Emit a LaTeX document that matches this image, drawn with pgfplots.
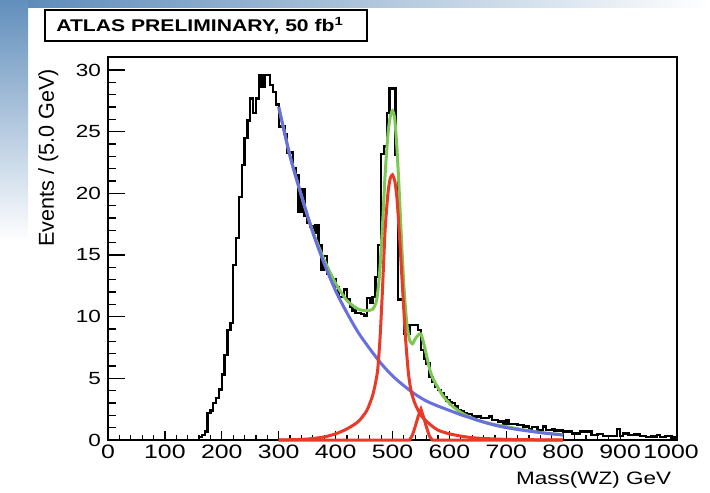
\documentclass[border=0pt]{standalone}
\usepackage{fontspec}
\setmainfont{Liberation Sans}[FakeStretch=1.25]
\newfontfamily\plainsans{Liberation Sans}
\newfontfamily\tickfont{Liberation Sans}[FakeStretch=1.28]
\usepackage{pgfplots}
\pgfplotsset{compat=1.18}
\definecolor{fitblue}{RGB}{104,112,222}
\definecolor{fitgreen}{RGB}{125,200,85}
\definecolor{fitred}{RGB}{232,58,38}
\definecolor{slideblue}{RGB}{45,105,165}

\begin{document}
\begin{tikzpicture}[x=0.5pt,y=0.5pt]
\useasboundingbox (0,0) rectangle (710,492);
% slide background
\shade[left color=slideblue!80, right color=white] (0,484) rectangle (710,492);
\shade[top color=slideblue!75, bottom color=white] (0,250) rectangle (28,492);

\begin{axis}[
  at={(54pt,26pt)}, anchor=south west,
  scale only axis, width=284.5pt, height=191.5pt,
  xmin=0, xmax=1000, ymin=0, ymax=31.05,
  axis line style={line width=0.7pt},
  tick align=inside, xtick pos=bottom, ytick pos=left,
  xtick={0,100,...,900}, minor x tick num=4,
  extra x ticks={1000},
  extra x tick style={xticklabel style={xshift=-3pt}},
  ytick={0,5,...,30}, minor y tick num=4,
  xtick style={/pgfplots/major tick length=4.5pt,/pgfplots/minor tick length=2.3pt},
  ytick style={/pgfplots/major tick length=8.5pt,/pgfplots/minor tick length=4.2pt},
  tick style={black, line width=0.6pt},
  /pgf/number format/assume math mode=true,
  /pgf/number format/set thousands separator={},
  scaled ticks=false,
  xticklabel style={font=\tickfont\fontsize{9.7}{12}\selectfont, yshift=1pt},
  yticklabel style={font=\tickfont\fontsize{8.8}{10}\selectfont},
  xlabel={Mass(WZ) GeV},
  ylabel={Events / (5.0 GeV)},
  xlabel style={font=\fontsize{9}{11}\selectfont, at={(rel axis cs:1.002,-0.104)}, anchor=east},
  ylabel style={font=\plainsans\fontsize{10.8}{12}\selectfont, at={(rel axis cs:-0.105,0.987)}, anchor=east},
  clip=false,
]
% data histogram, 5 GeV bins (left edges)
\addplot[const plot mark left, black, line width=1.2pt] table {
x y
0 0
160 0.25
165 0.4
170 0.7
175 2.2
180 2.4
185 3.0
190 3.4
195 4.1
200 5.3
205 6.9
210 8.9
215 9.5
220 14.2
225 16.4
230 19.7
235 22.3
240 24.5
245 25.9
250 27.7
255 26.5
260 27.7
265 29.6
270 28.6
275 29.6
280 29.6
285 28.8
290 28.2
295 27.2
300 25.4
305 25.4
310 24.8
315 23.3
320 23.3
325 22.0
330 21.5
335 18.5
340 20.3
345 18.2
350 17.6
355 17.3
360 16.8
365 17.4
370 15.8
375 13.8
380 14.9
385 13.5
390 13.2
395 13.0
400 12.4
405 11.6
410 11.6
415 12.2
420 11.4
425 10.8
430 10.5
435 10.3
440 10.3
445 10.2
450 10.1
455 11.5
460 11.1
465 11.6
470 13.2
475 15.8
480 23.2
485 23.8
490 26.5
495 28.5
500 28.5
505 23.1
510 11.4
515 11.4
520 8.6
525 8.6
530 9.3
535 9.3
540 9.3
545 8.9
550 7.3
555 6.6
560 6.2
565 5.1
570 4.7
575 4.3
580 4.05
585 3.8
590 3.5
595 3.2
600 3.1
605 3.0
610 2.7
615 2.4
620 2.3
625 2.2
630 2.1
635 2.1
640 1.9
645 1.9
650 1.9
655 1.8
660 1.8
665 1.8
670 1.9
675 1.6
680 1.6
685 1.5
690 1.5
695 1.35
700 1.6
705 1.3
710 1.3
715 1.3
720 1.2
725 1.2
730 1.1
735 1.1
740 0.9
745 1.05
750 1.05
755 0.8
760 0.8
765 1.1
770 0.8
775 0.8
780 0.9
785 0.76
790 0.76
795 0.81
800 0.68
805 0.68
810 0.68
815 0.54
820 0.54
825 0.49
830 0.68
835 0.68
840 0.68
845 0.68
850 0.4
855 0.4
860 0.49
865 0.49
870 0.32
875 0.32
880 0.32
885 0.32
890 0.32
895 0.87
900 0.32
905 0.54
910 0.54
915 0.4
920 0.4
925 0.46
930 0.46
935 0.32
940 0.32
945 0.22
950 0.22
955 0.27
960 0.27
965 0.4
970 0.22
975 0.22
980 0.32
985 0.32
990 0.2
995 0.2
1000 0.2
};
% total fit
\addplot[fitgreen, line width=1.5pt, smooth, tension=0.4] coordinates {
(300,27.0)(320,23.0)(340,19.8)(360,16.9)(380,14.6)(400,12.7)(420,11.3)
(440,10.6)(455,10.5)(465,10.6)(472,11.3)(477,13.3)(482,17.0)(487,21.5)
(492,24.8)(496,26.2)(500,26.7)(504,26.0)(508,23.5)(512,20.0)(516,16.0)
(520,12.5)(525,9.5)(530,8.1)(535,7.8)(540,8.2)(545,8.5)(550,8.6)(555,7.8)
(560,6.8)(565,5.8)(570,5.1)(578,4.4)(590,3.5)(605,2.75)(625,2.1)(650,1.6)
(680,1.25)(710,1.0)(740,0.75)(770,0.55)(800,0.42)
};
% background
\addplot[fitblue, line width=1.5pt, smooth] coordinates {
(300,27.0)(320,23.0)(340,19.8)(360,16.8)(380,14.3)(400,12.1)(420,10.3)
(440,8.7)(460,7.4)(480,6.2)(500,5.2)(520,4.4)(540,3.7)(560,3.15)(580,2.75)
(600,2.4)(620,2.05)(640,1.75)(660,1.45)(680,1.2)(700,1.0)(720,0.85)
(740,0.72)(760,0.6)(780,0.5)(800,0.4)
};
% signal peaks
\addplot[fitred, line width=1.5pt, smooth, tension=0.4] coordinates {
(300,0)(340,0.05)(360,0.12)(380,0.25)(400,0.5)(420,0.9)(440,1.5)(455,2.4)
(465,3.6)(470,4.6)(474,5.7)(478,8.2)(482,11.8)(487,17.0)(492,20.0)(496,21.2)
(500,21.5)(504,21.0)(508,19.5)(513,16.0)(518,12.0)(523,8.2)(528,5.4)
(533,3.9)(540,2.9)(550,2.0)(565,1.3)(580,0.8)(600,0.5)(625,0.28)(650,0.15)
(700,0.05)(750,0.02)(800,0)
};
\addplot[fitred, line width=1.5pt] coordinates {
(300,0)(530,0)(535,0.4)(540,1.1)(545,1.9)(550,2.5)(555,1.8)(560,1.0)
(565,0.3)(570,0)(800,0)
};
\end{axis}

% title box
\draw[line width=0.75pt, fill=white] (45,451) rectangle (367,482);
\node[anchor=west, inner sep=0pt, font=\bfseries\fontsize{8.45}{10}\selectfont]
  at (56,466) {ATLAS PRELIMINARY, 50 fb\textsuperscript{1}};
\end{tikzpicture}
\end{document}
